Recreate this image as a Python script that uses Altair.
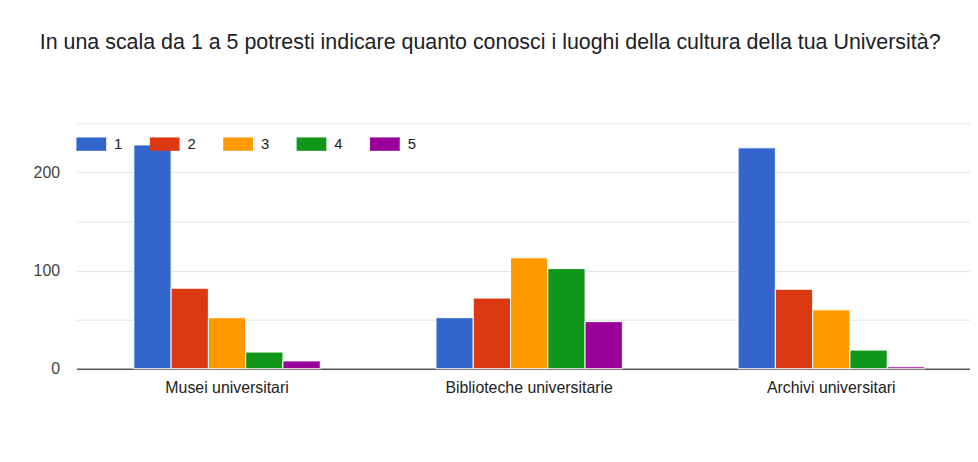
import altair as alt
import pandas as pd

categories = ["Musei universitari", "Biblioteche universitarie", "Archivi universitari"]
ratings = ["1", "2", "3", "4", "5"]
musei = [228, 82, 52, 17, 8]
biblioteche = [52, 72, 113, 102, 48]
archivi = [225, 81, 60, 19, 2]
colors = ["#3366cc", "#dc3912", "#ff9900", "#109618", "#990099"]
title = "In una scala da 1 a 5 potresti indicare quanto conosci i luoghi della cultura della tua Università?"

rows = []
for cat, vals in zip(categories, [musei, biblioteche, archivi]):
    for r, v in zip(ratings, vals):
        rows.append({"luogo": cat, "voto": r, "valore": v})
df = pd.DataFrame(rows)

FONT = "Liberation Sans"

chart = alt.Chart(df).mark_bar(stroke="white", strokeWidth=1).encode(
    x=alt.X("luogo:N", sort=categories, title=None,
            scale=alt.Scale(range=[0, 913], paddingInner=0.383, paddingOuter=0.19),
            axis=alt.Axis(labelAngle=0, ticks=False, domainColor="#5a5a5a", domainWidth=1.5,
                          labelPadding=11, labelFontSize=16, labelColor="#222222",
                          labelFont=FONT)),
    xOffset=alt.XOffset("voto:N", sort=ratings,
                        scale=alt.Scale(paddingInner=0, paddingOuter=0)),
    y=alt.Y("valore:Q", title=None,
            scale=alt.Scale(domain=[0, 250], nice=False),
            axis=alt.Axis(values=[0, 50, 100, 150, 200, 250],
                          labelExpr="datum.value % 100 == 0 ? datum.label : ''",
                          domain=False, ticks=False, gridColor="#e3e3e3",
                          labelPadding=17, labelFontSize=16, labelColor="#444444",
                          labelFont=FONT)),
    color=alt.Color("voto:N", sort=ratings,
                    scale=alt.Scale(domain=ratings, range=colors),
                    legend=alt.Legend(title=None, orient="none", direction="horizontal",
                                      legendX=0, legendY=6,
                                      symbolType="M-1,-0.45H1V0.45H-1Z", symbolSize=900,
                                      symbolStrokeWidth=0, symbolOpacity=1,
                                      labelFontSize=15, labelColor="#222222",
                                      labelFont=FONT, labelOffset=8,
                                      columnPadding=27)),
).properties(
    width=901,
    height=247.5,
    title=alt.TitleParams(title, anchor="start", frame="group", dx=-37, offset=70,
                          fontSize=21.6, font=FONT, fontWeight="normal",
                          color="#202124"),
    autosize=alt.AutoSizeParams(type="none"),
    padding={"left": 69, "top": 114.5, "right": 0, "bottom": 60},
).configure_view(stroke=None)

chart.save("out.html", embed_options={"renderer": "svg", "actions": False})
